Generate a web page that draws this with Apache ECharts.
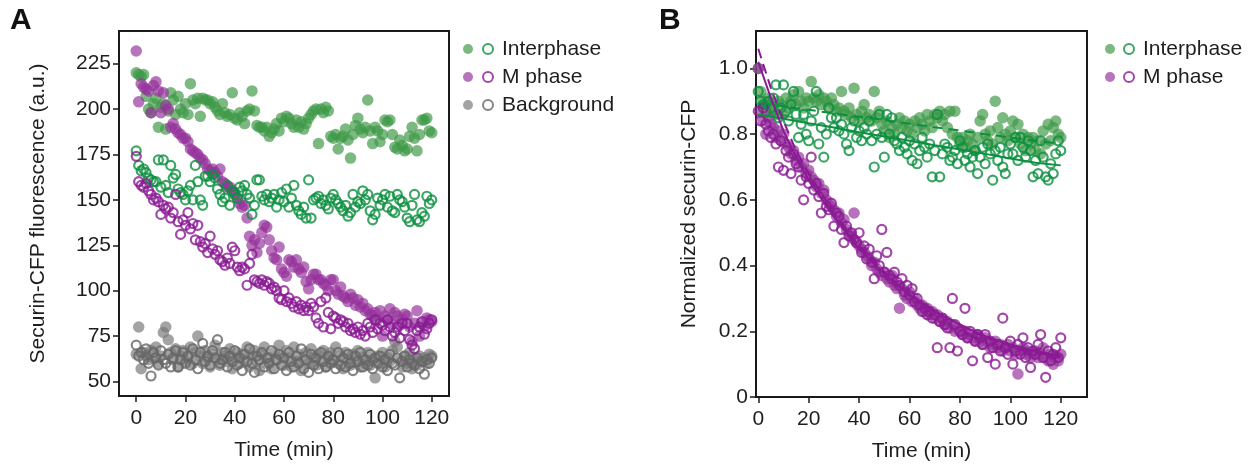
<!DOCTYPE html>
<html>
<head>
<meta charset="utf-8">
<script src="https://cdn.jsdelivr.net/npm/echarts@6/dist/echarts.min.js"></script>
<style>
html,body{margin:0;padding:0;background:#fff;}
#chart{width:1256px;height:470px;}
</style>
</head>
<body>
<div id="chart"></div>
<script>
// ---------- DATA ----------
const timeMin = [0,1,2,3,4,5,6,7,8,9,10,11,12,13,14,15,16,17,18,19,20,21,22,23,24,25,26,27,28,29,30,31,32,33,34,35,36,37,38,39,40,41,42,43,44,45,46,47,48,49,50,51,52,53,54,55,56,57,58,59,60,61,62,63,64,65,66,67,68,69,70,71,72,73,74,75,76,77,78,79,80,81,82,83,84,85,86,87,88,89,90,91,92,93,94,95,96,97,98,99,100,101,102,103,104,105,106,107,108,109,110,111,112,113,114,115,116,117,118,119,120];

// Panel A: raw Securin-CFP fluorescence (a.u.)
const aInterFilled = [220,219,218,219,207,200,198,203,206,190,201,203,189,199,209,205,197,207,200,198,203,197,214,205,203,206,196,206,205,205,203,204,201,199,197,203,198,196,197,209,195,194,198,196,192,199,200,210,199,191,190,190,188,190,185,187,189,192,188,195,193,196,195,192,190,194,190,193,189,192,195,197,199,200,181,200,198,201,199,185,184,186,178,184,185,189,183,173,186,191,195,189,187,190,205,188,181,190,188,182,186,194,193,194,186,179,178,183,180,177,178,185,190,184,177,186,194,194,195,188,187];
const aInterOpen = [177,169,166,167,165,162,161,160,160,172,157,172,158,154,169,162,164,156,154,153,150,155,158,150,169,160,150,147,163,163,160,164,162,156,153,149,151,158,147,155,153,151,157,155,158,153,151,142,147,161,161,152,150,153,149,151,153,146,150,154,149,156,146,151,158,147,144,142,146,140,161,140,150,151,152,148,150,147,145,151,153,150,148,146,144,147,141,143,153,146,149,148,155,150,153,144,139,142,151,147,150,153,146,152,144,143,153,150,149,146,140,138,147,153,139,138,143,141,152,148,150];
const aMFilled = [232,204,214,212,211,210,198,213,215,210,198,209,202,200,190,192,189,187,186,184,184,182,178,177,176,175,173,172,170,167,166,167,165,163,167,160,159,157,157,155,154,151,148,146,147,140,130,125,128,121,126,132,136,135,128,122,118,117,124,112,110,108,117,116,113,117,112,110,113,105,101,106,109,109,106,106,104,103,100,106,106,100,98,102,97,96,94,98,96,92,95,91,93,89,90,87,86,88,84,89,75,86,84,90,82,88,86,81,84,87,86,80,72,82,89,75,82,80,85,84,83];
const aMOpen = [174,160,158,157,159,155,153,150,151,149,142,147,145,146,140,143,153,138,131,139,136,143,134,137,128,136,127,124,126,121,130,123,120,122,117,116,114,118,115,124,122,113,111,113,112,103,115,120,106,105,104,106,103,105,104,101,102,100,96,95,100,94,96,93,91,94,90,92,89,91,89,93,91,85,82,94,80,96,88,79,86,85,82,84,83,80,82,78,79,77,80,76,78,75,82,80,77,84,79,82,81,78,84,80,75,77,80,74,82,78,82,73,70,68,78,80,83,76,79,82,84];
const aBgFilled = [65,80,57,66,64,62,67,63,69,60,64,77,80,73,66,62,68,58,64,67,61,63,69,60,66,75,64,60,67,63,58,65,70,62,59,66,64,61,68,57,63,66,60,65,62,69,58,64,67,61,56,65,69,60,63,57,66,62,70,64,59,67,63,58,69,61,65,56,62,66,60,68,63,59,65,61,67,58,63,66,61,69,60,64,57,66,62,59,65,61,67,58,63,60,66,59,62,52,64,60,66,58,63,61,67,72,69,62,58,64,60,66,57,62,59,64,61,63,60,65,64];
const aBgOpen = [70,64,66,62,68,60,53,66,63,59,67,62,60,65,58,63,67,58,62,66,60,64,59,68,62,57,66,71,61,64,59,67,63,73,60,62,66,58,64,61,67,59,63,56,65,61,68,60,55,64,62,66,58,63,60,67,57,62,65,59,63,56,66,61,58,64,60,68,57,62,55,65,59,63,57,66,61,58,64,60,62,57,66,59,63,58,65,60,56,64,61,66,58,62,59,65,57,63,60,64,58,62,56,65,60,59,63,52,61,64,58,62,60,59,63,57,61,54,62,60,63];

// Panel B: normalized Securin-CFP
const bInterFilled = [1.0,0.93,0.9,0.89,0.91,0.87,0.88,0.86,0.9,0.89,0.86,0.91,0.88,0.9,0.92,0.89,0.93,0.9,0.88,0.91,0.9,0.96,0.91,0.9,0.92,0.89,0.91,0.9,0.88,0.91,0.89,0.87,0.88,0.93,0.87,0.86,0.88,0.85,0.94,0.86,0.84,0.87,0.89,0.85,0.86,0.84,0.93,0.85,0.87,0.83,0.81,0.84,0.79,0.82,0.8,0.83,0.85,0.82,0.84,0.81,0.83,0.8,0.84,0.82,0.85,0.83,0.81,0.86,0.84,0.82,0.86,0.85,0.87,0.84,0.86,0.82,0.87,0.8,0.87,0.79,0.77,0.79,0.76,0.78,0.8,0.77,0.75,0.79,0.84,0.86,0.8,0.78,0.81,0.77,0.9,0.82,0.79,0.85,0.8,0.78,0.81,0.84,0.79,0.83,0.77,0.8,0.75,0.79,0.77,0.79,0.75,0.78,0.74,0.81,0.77,0.83,0.78,0.82,0.84,0.8,0.79];
const bInterOpen = [0.93,0.9,0.89,0.87,0.9,0.88,0.91,0.95,0.85,0.88,0.95,0.87,0.84,0.89,0.93,0.86,0.79,0.83,0.86,0.8,0.78,0.84,0.87,0.93,0.77,0.82,0.73,0.8,0.88,0.85,0.82,0.85,0.81,0.83,0.8,0.77,0.75,0.82,0.84,0.79,0.81,0.78,0.82,0.8,0.84,0.78,0.7,0.8,0.86,0.79,0.73,0.86,0.8,0.85,0.78,0.77,0.75,0.79,0.76,0.74,0.78,0.72,0.77,0.71,0.75,0.79,0.76,0.73,0.77,0.67,0.75,0.86,0.67,0.74,0.77,0.76,0.72,0.73,0.75,0.71,0.78,0.76,0.72,0.74,0.7,0.73,0.75,0.68,0.73,0.76,0.71,0.77,0.74,0.66,0.75,0.72,0.76,0.7,0.68,0.74,0.77,0.74,0.79,0.72,0.79,0.76,0.73,0.78,0.75,0.67,0.72,0.68,0.78,0.73,0.67,0.66,0.71,0.68,0.74,0.78,0.75];
const bMFilled = [1.0,0.87,0.84,0.8,0.85,0.83,0.82,0.79,0.81,0.78,0.8,0.77,0.76,0.74,0.75,0.72,0.73,0.7,0.71,0.68,0.69,0.67,0.66,0.64,0.65,0.62,0.63,0.6,0.59,0.58,0.57,0.55,0.56,0.53,0.54,0.51,0.5,0.49,0.56,0.47,0.46,0.45,0.44,0.43,0.42,0.4,0.41,0.39,0.38,0.37,0.38,0.36,0.35,0.37,0.34,0.33,0.27,0.33,0.31,0.3,0.32,0.29,0.3,0.28,0.27,0.28,0.26,0.27,0.25,0.26,0.24,0.25,0.23,0.24,0.22,0.23,0.21,0.22,0.2,0.21,0.2,0.19,0.2,0.18,0.19,0.18,0.17,0.19,0.17,0.16,0.18,0.17,0.15,0.16,0.17,0.15,0.16,0.14,0.15,0.16,0.14,0.15,0.13,0.07,0.14,0.15,0.13,0.14,0.12,0.13,0.14,0.12,0.13,0.15,0.12,0.11,0.13,0.1,0.12,0.11,0.13];
const bMOpen = [0.87,0.84,0.88,0.83,0.81,0.79,0.8,0.77,0.7,0.78,0.69,0.75,0.73,0.68,0.74,0.71,0.7,0.66,0.6,0.67,0.65,0.73,0.63,0.65,0.61,0.56,0.62,0.58,0.57,0.59,0.52,0.56,0.55,0.51,0.47,0.52,0.49,0.5,0.48,0.47,0.5,0.44,0.46,0.42,0.45,0.41,0.36,0.43,0.4,0.51,0.38,0.44,0.37,0.36,0.38,0.35,0.34,0.36,0.32,0.34,0.31,0.33,0.29,0.3,0.28,0.26,0.27,0.25,0.26,0.24,0.25,0.15,0.23,0.24,0.22,0.21,0.15,0.3,0.22,0.14,0.2,0.19,0.27,0.18,0.2,0.11,0.17,0.19,0.18,0.16,0.19,0.12,0.17,0.15,0.1,0.16,0.14,0.24,0.15,0.13,0.17,0.1,0.14,0.16,0.13,0.18,0.12,0.15,0.09,0.14,0.13,0.16,0.19,0.12,0.06,0.14,0.11,0.13,0.15,0.12,0.18];

// Fit lines in panel B
const fitTime = [0,5,10,15,20,30,40,50,60,70,80,90,100,110,120];
const fitInterFilled = [0.895,0.89,0.885,0.879,0.874,0.863,0.853,0.843,0.832,0.821,0.811,0.8,0.79,0.78,0.77];
const fitInterOpen = [0.86,0.853,0.847,0.84,0.833,0.82,0.806,0.793,0.78,0.766,0.753,0.74,0.726,0.713,0.705];
const fitMFilled = [1.06,0.94,0.84,0.75,0.68,0.56,0.46,0.38,0.31,0.26,0.22,0.18,0.155,0.135,0.12];
const fitMOpen = [1.02,0.91,0.81,0.73,0.66,0.55,0.45,0.375,0.31,0.26,0.22,0.185,0.16,0.14,0.125];

const xTicks = [0,20,40,60,80,100,120];
const yTicksA = [50,75,100,125,150,175,200,225];
const yTicksB = [0,0.2,0.4,0.6,0.8,1.0];

// ---------- STYLE ----------
const FONT = '"Liberation Sans", Arial, Helvetica, sans-serif';
const TXT = '#1e1e1e';
const C = {
  greenFill: 'rgba(62,152,70,0.85)', greenLine: '#0c9040',
  magFill: 'rgba(150,50,156,0.85)', magLine: '#8a1a93',
  grayFill: 'rgba(120,120,120,0.85)', grayLine: '#666666'
};

function pairs(xs, ys){ return xs.map((t,i)=>[t, ys[i]]); }

function xAxisCfg(gi, min, max){
  return {
    type:'value', gridIndex:gi, min:min, max:max,
    name:'Time (min)', nameLocation:'middle', nameGap:44,
    nameTextStyle:{fontSize:21, color:TXT, fontFamily:FONT},
    axisLine:{show:true, onZero:false, lineStyle:{color:'#1a1a1a', width:2}},
    axisTick:{show:true, inside:false, length:6, customValues:xTicks, lineStyle:{color:'#1a1a1a', width:1.5}},
    axisLabel:{fontSize:21, color:TXT, fontFamily:FONT, margin:12, customValues:xTicks},
    splitLine:{show:false}
  };
}
function yAxisCfg(gi, min, max, ticks, name, gap, fmt){
  return {
    type:'value', gridIndex:gi, min:min, max:max,
    name:name, nameLocation:'middle', nameGap:gap,
    nameTextStyle:{fontSize:21, color:TXT, fontFamily:FONT},
    axisLine:{show:true, onZero:false, lineStyle:{color:'#1a1a1a', width:2}},
    axisTick:{show:true, inside:false, length:6, customValues:ticks, lineStyle:{color:'#1a1a1a', width:1.5}},
    axisLabel:{fontSize:21, color:TXT, fontFamily:FONT, margin:8, customValues:ticks, formatter:fmt},
    splitLine:{show:false}
  };
}
function filled(name, gi, data, color){
  return {name:name, type:'scatter', xAxisIndex:gi, yAxisIndex:gi, data:data,
    symbol:'circle', symbolSize:11.5, itemStyle:{color:color}, z:2};
}
function open(name, gi, data, color){
  return {name:name, type:'scatter', xAxisIndex:gi, yAxisIndex:gi, data:data,
    symbol:'circle', symbolSize:9, itemStyle:{color:'rgba(255,255,255,0)', borderColor:color, borderWidth:2.2}, z:3};
}
function fit(name, data, color, dashed){
  return {name:name, type:'line', xAxisIndex:1, yAxisIndex:1, data:data, showSymbol:false, symbol:'none',
    lineStyle:{color:color, width:2, type: dashed ? [10,6] : 'solid'}, z:4, silent:true};
}
const labelMap = {
  'A-Interphase-open':'Interphase', 'A-M-open':'M phase', 'A-Bg-open':'Background',
  'B-Interphase-open':'Interphase', 'B-M-open':'M phase'
};
function legendCfg(left, names, withText){
  return {
    orient:'vertical', left:left, top:30, itemWidth:10, itemHeight:10, itemGap:0,
    data:names, icon:'circle',
    textStyle:{fontSize:21, color:TXT, fontFamily:FONT, lineHeight:28, padding:[0,0,0,4]},
    formatter: withText ? (n => labelMap[n]) : (n => ' '),
    selectedMode:false
  };
}

const chart = echarts.init(document.getElementById('chart'), null, {renderer:'canvas'});
chart.setOption({
  animation:false,
  backgroundColor:'#fff',
  title:[
    {text:'A', left:5, top:1, textStyle:{fontSize:30, fontWeight:'bold', color:'#111', fontFamily:FONT}},
    {text:'B', left:654, top:1, textStyle:{fontSize:30, fontWeight:'bold', color:'#111', fontFamily:FONT}}
  ],
  grid:[
    {left:119, top:31, width:330, height:365, show:true, borderColor:'#1a1a1a', borderWidth:2},
    {left:756, top:31, width:331, height:366, show:true, borderColor:'#1a1a1a', borderWidth:2}
  ],
  xAxis:[ xAxisCfg(0, -7, 127), xAxisCfg(1, -0.9, 130.4) ],
  yAxis:[
    yAxisCfg(0, 42, 243, yTicksA, 'Securin-CFP fluorescence (a.u.)', 70, v=>String(v)),
    yAxisCfg(1, 0, 1.114, yTicksB, 'Normalized securin-CFP', 56, v => v===0 ? '0' : v.toFixed(1))
  ],
  legend:[
    legendCfg(458, ['A-Interphase-filled','A-M-filled','A-Bg-filled'], false),
    legendCfg(477, ['A-Interphase-open','A-M-open','A-Bg-open'], true),
    legendCfg(1100, ['B-Interphase-filled','B-M-filled'], false),
    legendCfg(1118, ['B-Interphase-open','B-M-open'], true)
  ],
  series:[
    filled('A-Bg-filled', 0, pairs(timeMin, aBgFilled), C.grayFill),
    open('A-Bg-open', 0, pairs(timeMin, aBgOpen), C.grayLine),
    filled('A-Interphase-filled', 0, pairs(timeMin, aInterFilled), C.greenFill),
    open('A-Interphase-open', 0, pairs(timeMin, aInterOpen), C.greenLine),
    filled('A-M-filled', 0, pairs(timeMin, aMFilled), C.magFill),
    open('A-M-open', 0, pairs(timeMin, aMOpen), C.magLine),

    filled('B-Interphase-filled', 1, pairs(timeMin, bInterFilled), C.greenFill),
    open('B-Interphase-open', 1, pairs(timeMin, bInterOpen), C.greenLine),
    filled('B-M-filled', 1, pairs(timeMin, bMFilled), C.magFill),
    open('B-M-open', 1, pairs(timeMin, bMOpen), C.magLine),
    fit('fit-I-filled', pairs(fitTime, fitInterFilled), C.greenLine, true),
    fit('fit-I-open', pairs(fitTime, fitInterOpen), C.greenLine, false),
    fit('fit-M-filled', pairs(fitTime, fitMFilled), C.magLine, true),
    fit('fit-M-open', pairs(fitTime, fitMOpen), C.magLine, false)
  ]
});
</script>
</body>
</html>
